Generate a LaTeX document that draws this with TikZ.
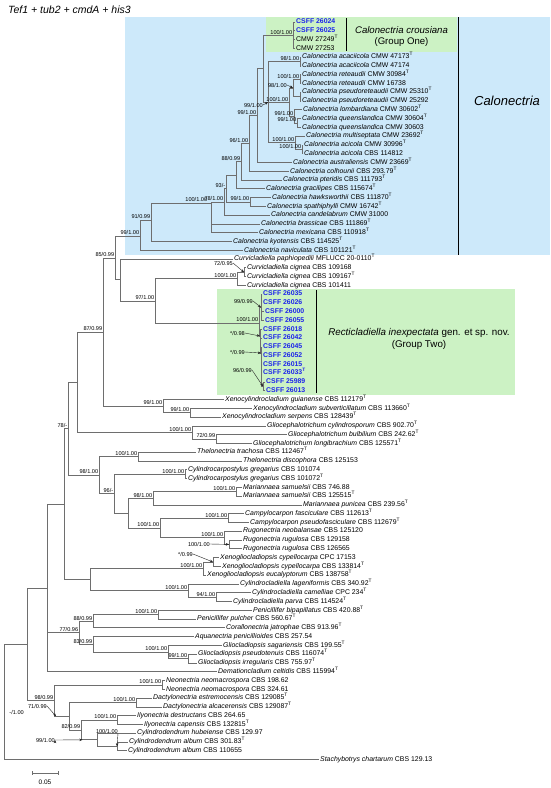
\documentclass[tikz,border=0pt]{standalone}
\usepackage{fontspec}
\setmainfont{Liberation Sans}
\usetikzlibrary{arrows.meta,calc}

\definecolor{calblue}{RGB}{205,233,250}
\definecolor{grpgreen}{RGB}{204,242,196}
\definecolor{csffblue}{RGB}{28,36,235}
\definecolor{branchgray}{RGB}{110,110,110}

\newcommand{\tsup}{\textsuperscript{T}}
\newcommand{\csff}[1]{\textcolor{csffblue}{\bfseries CSFF #1}}
\newcommand{\taxon}[2]{\textit{#1} #2}

\tikzset{
  leaf/.style={anchor=west,inner xsep=1pt,inner ysep=0pt,text height=4.9pt,text depth=1.4pt,font=\fontsize{6.9}{7.5}\selectfont},
  bs/.style={anchor=south east,inner sep=0pt,xshift=-0.6pt,yshift=0.9pt,text height=4.1pt,text depth=0pt,font=\fontsize{5.6}{6}\selectfont},
  bsfree/.style={anchor=east,inner sep=0pt,text height=4.1pt,text depth=0pt,font=\fontsize{5.6}{6}\selectfont},
  branch/.style={draw=branchgray,line width=0.65pt},
  pointer/.style={draw=black!85,line width=0.4pt,-{Stealth[length=3.2pt,width=2.6pt]}},
  groupbar/.style={draw=black,line width=0.9pt}
}

\begin{document}
\begin{tikzpicture}[x=1pt,y=-1pt]
\useasboundingbox (0,0) rectangle (550,788);
\fill[white] (0,0) rectangle (550,788);

% shaded groups
\fill[calblue] (125,17.3) rectangle (550,254.5);
\fill[grpgreen] (265.7,17.3) rectangle (456.7,51.7);
\fill[grpgreen] (216.5,289) rectangle (515,395);

\node[anchor=west,inner sep=0pt,font=\fontsize{10.5}{12}\selectfont\itshape] (title) at (8,10) {Tef1 + tub2 + cmdA + his3};

% terminal taxa
\node[leaf] (l0) at (295,22.0) {\csff{26024}};
\node[leaf] (l1) at (295,30.8) {\csff{26025}};
\node[leaf] (l2) at (295,39.6) {CMW 27249\tsup};
\node[leaf] (l3) at (295,48.3) {CMW 27253};
\node[leaf] (l4) at (301,57.1) {\taxon{Calonectria acaciicola}{CMW 47173\tsup}};
\node[leaf] (l5) at (301,65.9) {\taxon{Calonectria acaciicola}{CMW 47174}};
\node[leaf] (l6) at (301,74.7) {\taxon{Calonectria reteaudii}{CMW 30984\tsup}};
\node[leaf] (l7) at (301,83.5) {\taxon{Calonectria reteaudii}{CMW 16738}};
\node[leaf] (l8) at (301,92.2) {\taxon{Calonectria pseudoreteaudii}{CMW 25310\tsup}};
\node[leaf] (l9) at (301,101.0) {\taxon{Calonectria pseudoreteaudii}{CMW 25292}};
\node[leaf] (l10) at (302,109.8) {\taxon{Calonectria lombardiana}{CMW 30602\tsup}};
\node[leaf] (l11) at (301,118.6) {\taxon{Calonectria queenslandica}{CMW 30604\tsup}};
\node[leaf] (l12) at (301,127.4) {\taxon{Calonectria queenslandica}{CMW 30603}};
\node[leaf] (l13) at (305,136.1) {\taxon{Calonectria multiseptata}{CMW 23692\tsup}};
\node[leaf] (l14) at (303,144.9) {\taxon{Calonectria acicola}{CMW 30996\tsup}};
\node[leaf] (l15) at (303,153.7) {\taxon{Calonectria acicola}{CBS 114812}};
\node[leaf] (l16) at (292,162.5) {\taxon{Calonectria australiensis}{CMW 23669\tsup}};
\node[leaf] (l17) at (289,171.3) {\taxon{Calonectria colhounii}{CBS 293.79\tsup}};
\node[leaf] (l18) at (282,180.0) {\taxon{Calonectria pteridis}{CBS 111793\tsup}};
\node[leaf] (l19) at (265,188.8) {\taxon{Calonectria gracilipes}{CBS 115674\tsup}};
\node[leaf] (l20) at (271,197.6) {\taxon{Calonectria hawksworthii}{CBS 111870\tsup}};
\node[leaf] (l21) at (266,206.4) {\taxon{Calonectria spathiphylli}{CMW 16742\tsup}};
\node[leaf] (l22) at (270,215.2) {\taxon{Calonectria candelabrum}{CMW 31000}};
\node[leaf] (l23) at (260,223.9) {\taxon{Calonectria brassicae}{CBS 111869\tsup}};
\node[leaf] (l24) at (258,232.7) {\taxon{Calonectria mexicana}{CBS 110918\tsup}};
\node[leaf] (l25) at (232,241.5) {\taxon{Calonectria kyotensis}{CBS 114525\tsup}};
\node[leaf] (l26) at (243,250.3) {\taxon{Calonectria naviculata}{CBS 101121\tsup}};
\node[leaf] (l27) at (233,259.1) {\taxon{Curvicladiella paphiopedili}{MFLUCC 20-0110\tsup}};
\node[leaf] (l28) at (246,267.8) {\taxon{Curvicladiella cignea}{CBS 109168}};
\node[leaf] (l29) at (246,276.6) {\taxon{Curvicladiella cignea}{CBS 109167\tsup}};
\node[leaf] (l30) at (246,285.4) {\taxon{Curvicladiella cignea}{CBS 101411}};
\node[leaf] (l31) at (262,294.2) {\csff{26035}};
\node[leaf] (l32) at (262,303.0) {\csff{26026}};
\node[leaf] (l33) at (264,311.7) {\csff{26000}};
\node[leaf] (l34) at (264,320.5) {\csff{26055}};
\node[leaf] (l35) at (262,329.3) {\csff{26018}};
\node[leaf] (l36) at (262,338.1) {\csff{26042}};
\node[leaf] (l37) at (262,346.9) {\csff{26045}};
\node[leaf] (l38) at (262,355.6) {\csff{26052}};
\node[leaf] (l39) at (262,364.4) {\csff{26015}};
\node[leaf] (l40) at (262,373.2) {\csff{26033\tsup}};
\node[leaf] (l41) at (265,382.0) {\csff{25989}};
\node[leaf] (l42) at (265,390.8) {\csff{26013}};
\node[leaf] (l43) at (224,399.5) {\taxon{Xenocylindrocladium guianense}{CBS 112179\tsup}};
\node[leaf] (l44) at (252,408.3) {\taxon{Xenocylindrocladium subverticillatum}{CBS 113660\tsup}};
\node[leaf] (l45) at (221,417.1) {\taxon{Xenocylindrocladium serpens}{CBS 128439\tsup}};
\node[leaf] (l46) at (266,425.9) {\taxon{Gliocephalotrichum cylindrosporum}{CBS 902.70\tsup}};
\node[leaf] (l47) at (287,434.7) {\taxon{Gliocephalotrichum bulbilium}{CBS 242.62\tsup}};
\node[leaf] (l48) at (252,443.4) {\taxon{Gliocephalotrichum longibrachium}{CBS 125571\tsup}};
\node[leaf] (l49) at (196,452.2) {\taxon{Thelonectria trachosa}{CBS 112467\tsup}};
\node[leaf] (l50) at (242,461.0) {\taxon{Thelonectria discophora}{CBS 125153}};
\node[leaf] (l51) at (187,469.8) {\taxon{Cylindrocarpostylus gregarius}{CBS 101074}};
\node[leaf] (l52) at (187,478.6) {\taxon{Cylindrocarpostylus gregarius}{CBS 101072\tsup}};
\node[leaf] (l53) at (242,487.3) {\taxon{Mariannaea samuelsii}{CBS 746.88}};
\node[leaf] (l54) at (242,496.1) {\taxon{Mariannaea samuelsii}{CBS 125515\tsup}};
\node[leaf] (l55) at (302,504.9) {\taxon{Mariannaea punicea}{CBS 239.56\tsup}};
\node[leaf] (l56) at (244,513.7) {\taxon{Campylocarpon fasciculare}{CBS 112613\tsup}};
\node[leaf] (l57) at (249,522.5) {\taxon{Campylocarpon pseudofasciculare}{CBS 112679\tsup}};
\node[leaf] (l58) at (242,531.2) {\taxon{Rugonectria neobalansae}{CBS 125120}};
\node[leaf] (l59) at (242,540.0) {\taxon{Rugonectria rugulosa}{CBS 129158}};
\node[leaf] (l60) at (242,548.8) {\taxon{Rugonectria rugulosa}{CBS 126565}};
\node[leaf] (l61) at (219,557.6) {\taxon{Xenogliocladiopsis cypellocarpa}{CPC 17153}};
\node[leaf] (l62) at (221,566.4) {\taxon{Xenogliocladiopsis cypellocarpa}{CBS 133814\tsup}};
\node[leaf] (l63) at (206,575.1) {\taxon{Xenogliocladiopsis eucalyptorum}{CBS 138758\tsup}};
\node[leaf] (l64) at (239,583.9) {\taxon{Cylindrocladiella lageniformis}{CBS 340.92\tsup}};
\node[leaf] (l65) at (251,592.7) {\taxon{Cylindrocladiella camelliae}{CPC 234\tsup}};
\node[leaf] (l66) at (232,601.5) {\taxon{Cylindrocladiella parva}{CBS 114524\tsup}};
\node[leaf] (l67) at (252,610.3) {\taxon{Penicillifer bipapillatus}{CBS 420.88\tsup}};
\node[leaf] (l68) at (196,619.0) {\taxon{Penicillifer pulcher}{CBS 560.67\tsup}};
\node[leaf] (l69) at (225,627.8) {\taxon{Corallonectria jatrophae}{CBS 913.96\tsup}};
\node[leaf] (l70) at (194,636.6) {\taxon{Aquanectria penicillioides}{CBS 257.54}};
\node[leaf] (l71) at (222,645.4) {\taxon{Gliocladiopsis sagariensis}{CBS 199.55\tsup}};
\node[leaf] (l72) at (197,654.2) {\taxon{Gliocladiopsis pseudotenuis}{CBS 116074\tsup}};
\node[leaf] (l73) at (197,663.0) {\taxon{Gliocladiopsis irregularis}{CBS 755.97\tsup}};
\node[leaf] (l74) at (217,671.7) {\taxon{Demationcladium celtidis}{CBS 115994\tsup}};
\node[leaf] (l75) at (165,680.5) {\taxon{Neonectria neomacrospora}{CBS 198.62}};
\node[leaf] (l76) at (165,689.3) {\taxon{Neonectria neomacrospora}{CBS 324.61}};
\node[leaf] (l77) at (152,698.1) {\taxon{Dactylonectria estremocensis}{CBS 129085\tsup}};
\node[leaf] (l78) at (162,706.9) {\taxon{Dactylonectria alcacerensis}{CBS 129087\tsup}};
\node[leaf] (l79) at (136,715.6) {\taxon{Ilyonectria destructans}{CBS 264.65}};
\node[leaf] (l80) at (143,724.4) {\taxon{Ilyonectria capensis}{CBS 132815\tsup}};
\node[leaf] (l81) at (136,733.2) {\taxon{Cylindrodendrum hubeiense}{CBS 129.97}};
\node[leaf] (l82) at (128,742.0) {\taxon{Cylindrodendrum album}{CBS 301.83\tsup}};
\node[leaf] (l83) at (127,750.8) {\taxon{Cylindrodendrum album}{CBS 110655}};
\node[leaf] (l84) at (319,759.5) {\taxon{Stachybotrys chartarum}{CBS 129.13}};

% internal nodes
\coordinate (Ncr) at (293,35.5);
\coordinate (NA1) at (300,61.5);
\coordinate (NR) at (300,79.1);
\coordinate (NP) at (300,96.6);
\coordinate (NRP) at (293,87.9);
\coordinate (NQ) at (297,123.0);
\coordinate (NLQ) at (294,116.4);
\coordinate (Nx) at (289,102.2);
\coordinate (Nac) at (302,149.3);
\coordinate (Nms) at (295,142.7);
\coordinate (Ny) at (268,102.1);
\coordinate (Nc) at (263,68.8);
\coordinate (Na) at (257,115.6);
\coordinate (N96) at (249,143.5);
\coordinate (N88) at (241,161.8);
\coordinate (Ng) at (236,175.3);
\coordinate (N99h) at (250,202.0);
\coordinate (N93) at (226,188.7);
\coordinate (N78) at (224,202.0);
\coordinate (N100) at (211,203.0);
\coordinate (N91) at (151,220.0);
\coordinate (Ncal) at (140,236.0);
\coordinate (Ccig1) at (244,272.2);
\coordinate (Ccig) at (237,278.8);
\coordinate (RA) at (261,307.4);
\coordinate (RD) at (263,386.4);
\coordinate (RC) at (261,353.0);
\coordinate (RB) at (260,336.0);
\coordinate (Rect) at (259,323.0);
\coordinate (N97) at (155,301.0);
\coordinate (NP120) at (120,279.5);
\coordinate (N85) at (115,258.0);
\coordinate (XenoB) at (190,412.7);
\coordinate (Xeno) at (163,406.0);
\coordinate (N87) at (103,332.0);
\coordinate (GliB) at (216,439.0);
\coordinate (GliA) at (192,432.5);
\coordinate (N77) at (77,382.0);
\coordinate (Thel) at (138,456.6);
\coordinate (CylG) at (185,474.2);
\coordinate (MarA) at (236,491.7);
\coordinate (MarB) at (153,498.3);
\coordinate (Camp) at (228,518.1);
\coordinate (RugB) at (229,544.4);
\coordinate (RugA) at (224,537.8);
\coordinate (CampRug) at (160,528.0);
\coordinate (Nu) at (128,513.0);
\coordinate (N96b) at (114,493.6);
\coordinate (N98) at (99,475.0);
\coordinate (N78b) at (68,428.5);
\coordinate (XgB) at (213,562.0);
\coordinate (XgA) at (203,568.6);
\coordinate (CyB) at (216,597.1);
\coordinate (CyA) at (188,590.5);
\coordinate (NXC) at (90,579.5);
\coordinate (Nmid) at (64,504.0);
\coordinate (PenA) at (158,614.7);
\coordinate (N88b) at (93,621.2);
\coordinate (GliocB) at (188,658.6);
\coordinate (GliocA) at (168,652.0);
\coordinate (N83) at (93,644.3);
\coordinate (N77c) at (79,632.8);
\coordinate (N47) at (47,587.9);
\coordinate (Neo) at (162,684.9);
\coordinate (Dac) at (136,702.5);
\coordinate (Ily) at (117,720.0);
\coordinate (CydB) at (117,746.4);
\coordinate (CydA) at (97,739.8);
\coordinate (N82) at (81,729.9);
\coordinate (N71) at (69,716.2);
\coordinate (N98c) at (54,700.5);
\coordinate (Nin) at (27,644.2);
\coordinate (Nroot) at (4,702.0);
\coordinate (N71in) at ($(N98c |- N71)+(2,0)$);
\coordinate (CydAin) at ($(N82 |- CydA)+(1.5,0)$);

% branches
\path[branch]
  (Ncr) |- (l0.west) (Ncr) |- (l1.west) (Ncr) |- (l2.west) (Ncr) |- (l3.west)
  (NA1) |- (l4.west) (NA1) |- (l5.west)
  (NR) |- (l6.west) (NR) |- (l7.west)
  (NP) |- (l8.west) (NP) |- (l9.west)
  (NRP) |- (NR) (NRP) |- (NP)
  (NQ) |- (l11.west) (NQ) |- (l12.west)
  (NLQ) |- (l10.west) (NLQ) |- (NQ)
  (Nx) |- (NRP) (Nx) |- (NLQ)
  (Nac) |- (l14.west) (Nac) |- (l15.west)
  (Nms) |- (l13.west) (Nms) |- (Nac)
  (Ny) |- (NA1) (Ny) |- (Nx) (Ny) |- (Nms)
  (Nc) |- (Ncr) (Nc) |- (Ny)
  (Na) |- (Nc) (Na) |- (l16.west)
  (N96) |- (Na) (N96) |- (l17.west)
  (N88) |- (N96) (N88) |- (l18.west)
  (Ng) |- (N88) (Ng) |- (l19.west)
  (N99h) |- (l20.west) (N99h) |- (l21.west)
  (N93) |- (Ng) (N93) |- (N99h)
  (N78) |- (N93) (N78) |- (l22.west)
  (N100) |- (N78) (N100) |- (l23.west) (N100) |- (l24.west)
  (N91) |- (N100) (N91) |- (l25.west)
  (Ncal) |- (N91) (Ncal) |- (l26.west)
  (Ccig1) |- (l28.west) (Ccig1) |- (l29.west)
  (Ccig) |- (Ccig1) (Ccig) |- (l30.west)
  (RA) |- (l31.west) (RA) |- (l32.west) (RA) |- (l33.west) (RA) |- (l34.west)
  (RD) |- (l41.west) (RD) |- (l42.west)
  (RC) |- (l37.west) (RC) |- (l38.west) (RC) |- (l39.west) (RC) |- (l40.west) (RC) |- (RD)
  (RB) |- (l35.west) (RB) |- (l36.west) (RB) |- (RC)
  (Rect) |- (RA) (Rect) |- (RB)
  (N97) |- (Ccig) (N97) |- (Rect)
  (NP120) |- (l27.west) (NP120) |- (N97)
  (N85) |- (Ncal) (N85) |- (NP120)
  (XenoB) |- (l44.west) (XenoB) |- (l45.west)
  (Xeno) |- (l43.west) (Xeno) |- (XenoB)
  (N87) |- (N85) (N87) |- (Xeno)
  (GliB) |- (l47.west) (GliB) |- (l48.west)
  (GliA) |- (l46.west) (GliA) |- (GliB)
  (N77) |- (N87) (N77) |- (GliA)
  (Thel) |- (l49.west) (Thel) |- (l50.west)
  (CylG) |- (l51.west) (CylG) |- (l52.west)
  (MarA) |- (l53.west) (MarA) |- (l54.west)
  (MarB) |- (MarA) (MarB) |- (l55.west)
  (Camp) |- (l56.west) (Camp) |- (l57.west)
  (RugB) |- (l59.west) (RugB) |- (l60.west)
  (RugA) |- (l58.west) (RugA) |- (RugB)
  (CampRug) |- (Camp) (CampRug) |- (RugA)
  (Nu) |- (MarB) (Nu) |- (CampRug)
  (N96b) |- (CylG) (N96b) |- (Nu)
  (N98) |- (Thel) (N98) |- (N96b)
  (N78b) |- (N77) (N78b) |- (N98)
  (XgB) |- (l61.west) (XgB) |- (l62.west)
  (XgA) |- (XgB) (XgA) |- (l63.west)
  (CyB) |- (l65.west) (CyB) |- (l66.west)
  (CyA) |- (l64.west) (CyA) |- (CyB)
  (NXC) |- (XgA) (NXC) |- (CyA)
  (Nmid) |- (N78b) (Nmid) |- (NXC)
  (PenA) |- (l67.west) (PenA) |- (l68.west)
  (N88b) |- (PenA) (N88b) |- (l69.west)
  (GliocB) |- (l72.west) (GliocB) |- (l73.west)
  (GliocA) |- (l71.west) (GliocA) |- (GliocB)
  (N83) |- (l70.west) (N83) |- (GliocA)
  (N77c) |- (N88b) (N77c) |- (N83)
  (N47) |- (Nmid) (N47) |- (N77c) (N47) |- (l74.west)
  (Neo) |- (l75.west) (Neo) |- (l76.west)
  (Dac) |- (l77.west) (Dac) |- (l78.west)
  (Ily) |- (l79.west) (Ily) |- (l80.west)
  (CydB) |- (l82.west) (CydB) |- (l83.west)
  (CydA) |- (l81.west) (CydA) |- (CydB)
  (N82) |- (Ily) (N82) |- (CydA)
  (N71) |- (Dac) (N71) |- (N82)
  (N98c) |- (Neo) (N98c) |- (N71)
  (Nin) |- (N47) (Nin) |- (N98c)
  (Nroot) |- (Nin) (Nroot) |- (l84.west)
;

% support values
\node[bs] (sNcr) at (Ncr) {100/1.00};
\node[bs] (sNA1) at (NA1) {98/1.00};
\node[bs] (sNR) at (NR) {100/1.00};
\node[bs] (sNx) at (Nx) {100/1.00};
\node[bs] (sNLQ) at (NLQ) {99/1.00};
\node[bs] (sNQ) at (NQ) {99/1.00};
\node[bs] (sNa) at (Na) {99/1.00};
\node[bs] (sNms) at (Nms) {100/1.00};
\node[bs] (sNac) at (Nac) {100/1.00};
\node[bs] (sN96) at (N96) {96/1.00};
\node[bs] (sN88) at (N88) {88/0.99};
\node[bs] (sN93) at (N93) {93/-};
\node[bs] (sN99h) at (N99h) {99/1.00};
\node[bs,xshift=-3pt] (sN100) at (N100) {100/1.00};
\node[bs] (sN78) at (N78) {78/1.00};
\node[bs] (sN91) at (N91) {91/0.99};
\node[bs] (sNcal) at (Ncal) {99/1.00};
\node[bs] (sN85) at (N85) {85/0.99};
\node[bs] (sCcig) at (Ccig) {100/1.00};
\node[bs] (sN97) at (N97) {97/1.00};
\node[bs] (sRect) at (Rect) {100/1.00};
\node[bs] (sN87) at (N87) {87/0.99};
\node[bs] (sXeno) at (Xeno) {99/1.00};
\node[bs] (sXenoB) at (XenoB) {99/1.00};
\node[bs] (sN78b) at (N78b) {78/-};
\node[bs] (sGliA) at (GliA) {100/1.00};
\node[bs] (sGliB) at (GliB) {72/0.99};
\node[bs] (sThel) at (Thel) {100/1.00};
\node[bs] (sN98) at (N98) {98/1.00};
\node[bs] (sCylG) at (CylG) {100/1.00};
\node[bs] (sMarA) at (MarA) {100/1.00};
\node[bs] (sN96b) at (N96b) {96/-};
\node[bs] (sMarB) at (MarB) {98/1.00};
\node[bs] (sCamp) at (Camp) {100/1.00};
\node[bs] (sCampRug) at (CampRug) {100/1.00};
\node[bs] (sRugA) at (RugA) {100/1.00};
\node[bs] (sXgA) at (XgA) {100/1.00};
\node[bs] (sCyA) at (CyA) {100/1.00};
\node[bs] (sCyB) at (CyB) {94/1.00};
\node[bs] (sPenA) at (PenA) {100/1.00};
\node[bs] (sN88b) at (N88b) {88/0.99};
\node[bs] (sN77c) at (N77c) {77/0.96};
\node[bs] (sN83) at (N83) {83/0.99};
\node[bs] (sGliocA) at (GliocA) {100/1.00};
\node[bs] (sGliocB) at (GliocB) {99/1.00};
\node[bs] (sNeo) at (Neo) {100/1.00};
\node[bs] (sN98c) at (N98c) {98/0.99};
\node[bs] (sDac) at (Dac) {100/1.00};
\node[bs] (sIly) at (Ily) {100/1.00};
\node[bs] (sN82) at (N82) {82/0.99};
\node[bsfree] (sNroot) at (24,712) {-/1.00};

% support values pointed at short branches
\node[bsfree] (pNRP) at (287,85) {98/1.00};
\node[bsfree] (pNy) at (263,105) {99/1.00};
\node[bsfree] (pCcig1) at (233,263) {72/0.95};
\node[bsfree] (pRA) at (253,301) {99/0.99};
\node[bsfree] (pRB) at (245,333) {*/0.98};
\node[bsfree] (pRC) at (245,352) {*/0.99};
\node[bsfree] (pRD) at (252,370) {96/0.99};
\node[bsfree] (pRugB) at (210,544) {100/1.00};
\node[bsfree] (pXgB) at (193,554) {*/0.99};
\node[bsfree] (pN71) at (47,706) {71/0.99};
\node[bsfree] (pCydB) at (118,731) {100/1.00};
\node[bsfree] (pCydA) at (55,740) {99/1.00};
\path[pointer]
  (pNRP.east) edge (NRP)
  (pNy.east) edge (Ny)
  (pCcig1.east) edge (Ccig1)
  (pRA.east) edge (RA)
  (pRB.east) edge (RB)
  (pRC.east) edge (RC)
  (pRD.east) edge (RD)
  (pRugB.east) edge (RugB)
  (pXgB.east) edge (XgB)
  (pN71.east) edge (N71in)
  (pCydB.south east) edge (CydB)
  (pCydA.east) edge (CydAin);

% group labels
\draw[groupbar] (346,18) -- (346,51);
\draw[groupbar] (458,17.3) -- (458,254.5);
\draw[groupbar] (316,290) -- (316,393);
\node[align=center,inner sep=0pt,font=\fontsize{9.6}{11}\selectfont] (grpone) at (401.5,36.5) {\textit{Calonectria crousiana}\\(Group One)};
\node[inner sep=0pt,font=\fontsize{13}{15}\selectfont\itshape] (calname) at (507,101) {Calonectria};
\node[align=center,inner sep=0pt,font=\fontsize{9.8}{12}\selectfont] (grptwo) at (419,339) {\textit{Recticladiella inexpectata} gen. et sp. nov.\\(Group Two)};

% scale bar
\coordinate (sbl) at (32,773);
\coordinate (sbr) at (58,773);
\draw[branch] (sbl) -- (sbr) ($(sbl)+(0,-2)$) -- ($(sbl)+(0,2)$) ($(sbr)+(0,-2)$) -- ($(sbr)+(0,2)$);
\node[inner sep=0pt,font=\fontsize{6.5}{7}\selectfont] (sblab) at (45,782) {0.05};
\end{tikzpicture}
\end{document}
